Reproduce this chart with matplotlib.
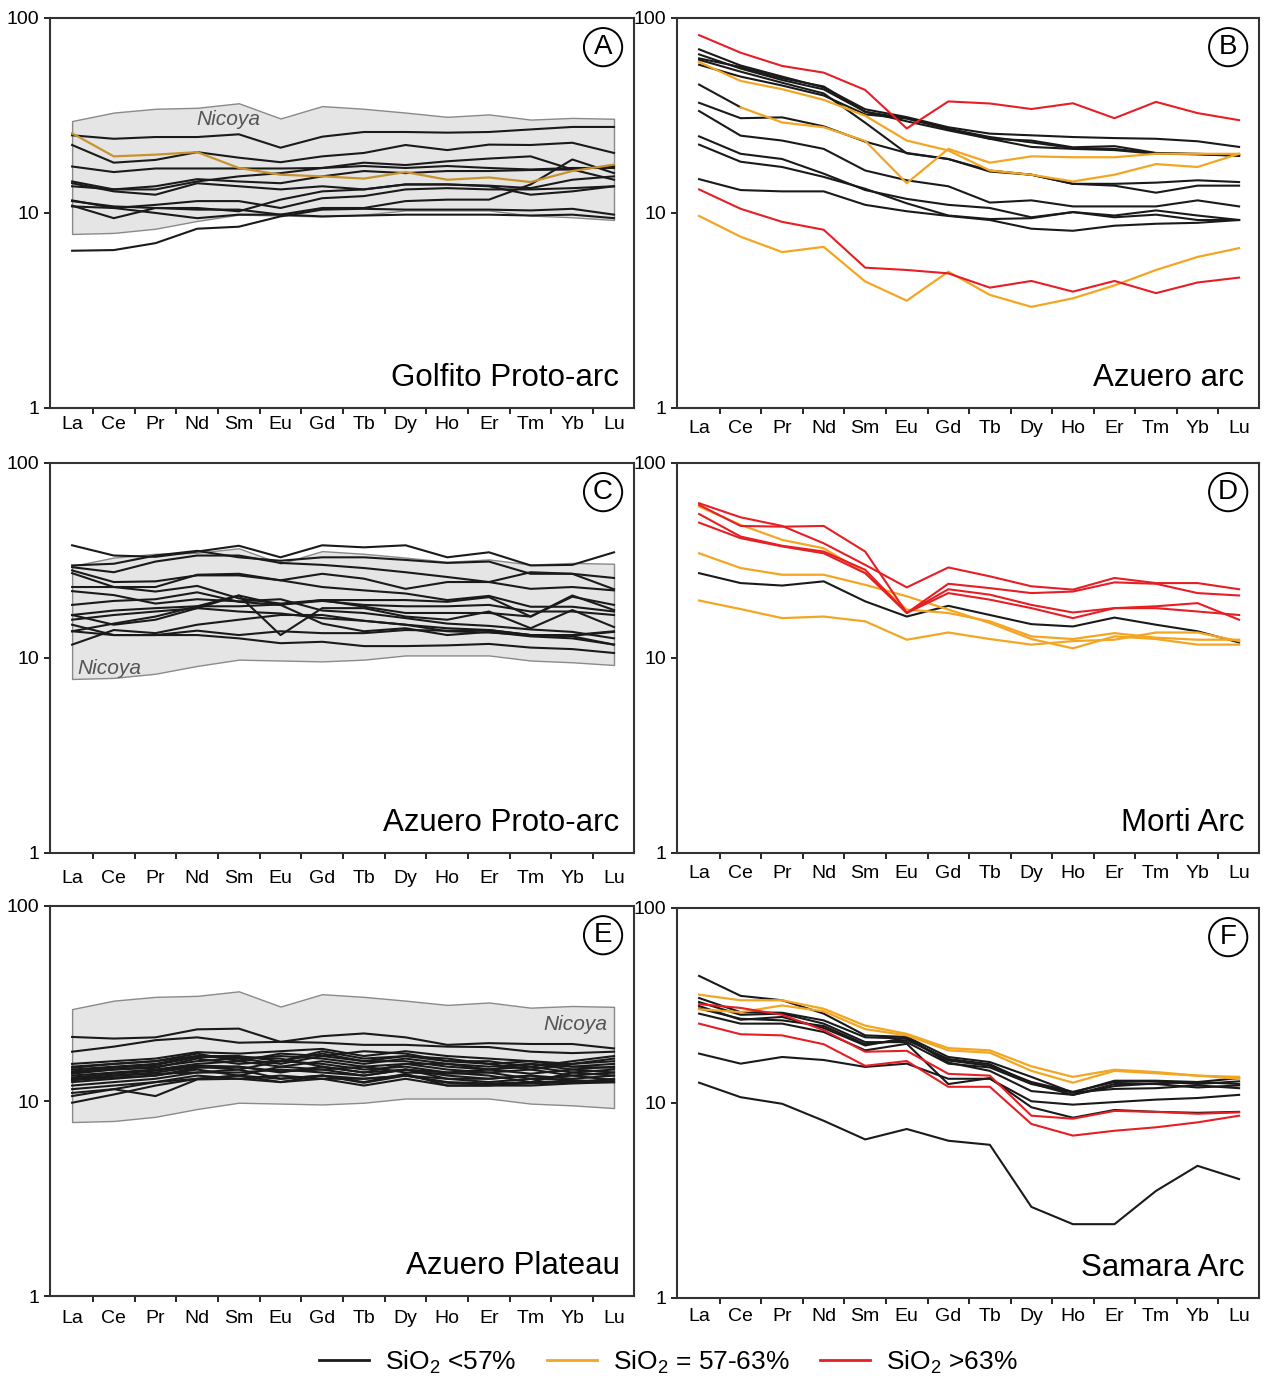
import numpy as np
import matplotlib.pyplot as plt
from matplotlib.lines import Line2D
from matplotlib.ticker import FixedLocator, NullLocator, FixedFormatter

plt.rcParams['font.family'] = ['Liberation Sans', 'DejaVu Sans']
plt.rcParams['mathtext.fontset'] = 'custom'
plt.rcParams['mathtext.rm'] = 'Liberation Sans'

nan = np.nan
ree = ['La', 'Ce', 'Pr', 'Nd', 'Sm', 'Eu', 'Gd', 'Tb', 'Dy', 'Ho', 'Er', 'Tm', 'Yb', 'Lu']

# Nicoya field (same envelope in A, C, E)
nicoya_hi = [29.6, 32.7, 34.2, 34.6, 36.5, 30.5, 35.3, 34.2, 32.7, 31.1, 32.0, 30.1, 30.7, 30.4]
nicoya_lo = [7.8, 7.9, 8.3, 9.1, 9.8, 9.7, 9.6, 9.8, 10.3, 10.3, 10.3, 9.7, 9.5, 9.2]

# A - Golfito Proto-arc
a_black = [
    [25.0, 24.0, 24.5, 24.5, 25.3, 21.6, 24.6, 26.0, 26.0, 25.8, 26.0, 26.8, 27.6, 27.6],
    [22.3, 18.1, 18.7, 20.5, 19.2, 18.2, 19.5, 20.3, 22.3, 21.0, 22.4, 22.3, 22.9, 20.3],
    [17.3, 16.2, 16.9, 16.9, 16.9, 16.9, 17.0, 18.1, 17.6, 18.4, 19.0, 19.5, 16.7, 14.8],
    [14.5, 13.2, 13.7, 14.9, 14.5, 14.2, 15.4, 16.4, 16.0, 16.4, 16.4, 16.6, 16.7, 17.4],
    [14.2, 12.9, 12.4, 14.2, 13.7, 13.2, 13.7, 13.2, 14.0, 14.0, 13.7, 12.4, 12.9, 13.7],
    [13.7, 13.2, 13.2, 14.5, 15.4, 16.0, 17.0, 17.4, 17.0, 17.4, 17.0, 16.7, 17.0, 17.0],
    [11.6, 10.6, 11.0, 11.5, 11.5, 10.6, 11.9, 12.2, 13.2, 13.4, 13.2, 13.2, 13.4, 13.7],
    [10.9, 9.4, 10.6, 10.6, 10.2, 11.7, 12.9, 13.2, 14.0, 14.0, 13.8, 13.4, 14.8, 15.4],
    [10.8, 10.6, 10.0, 9.4, 9.8, 9.8, 10.6, 10.6, 11.5, 11.7, 11.7, 14.0, 18.8, 16.0],
    [11.5, 10.8, 10.6, 10.4, 10.4, 9.8, 9.6, 9.7, 9.8, 9.8, 9.8, 9.7, 9.8, 9.4],
    [6.4, 6.45, 7.0, 8.3, 8.5, 9.6, 10.4, 10.5, 10.4, 10.4, 10.4, 10.3, 10.5, 9.8],
]
a_orange = [
    [25.6, 19.5, 19.9, 20.5, 17.0, 15.7, 15.4, 15.0, 16.2, 14.8, 15.2, 14.4, 16.4, 17.7],
]
a_red = []

# B - Azuero arc
b_black = [
    [69.0, 57.0, 50.0, 44.0, 34.0, 31.0, 27.5, 25.5, 25.0, 24.5, 24.2, 24.0, 23.3, 21.8],
    [65.0, 55.0, 48.0, 43.0, 33.0, 30.5, 27.0, 24.0, 23.5, 21.7, 22.0, 20.3, 20.1, 19.8],
    [62.0, 56.0, 49.0, 44.5, 33.0, 29.5, 26.5, 24.0, 21.8, 21.3, 21.0, 20.1, 20.0, 19.6],
    [61.0, 53.0, 46.5, 41.0, 29.0, 20.2, 18.9, 16.3, 15.7, 14.1, 13.8, 12.7, 13.8, 13.8],
    [57.5, 50.0, 45.0, 40.0, 32.0, 30.5, 27.0, 24.5, 23.0, 21.5, 21.3, 20.2, 20.0, 19.7],
    [45.5, 34.8, nan, nan, nan, nan, nan, nan, nan, nan, nan, nan, nan, nan],
    [36.7, 30.6, 30.9, 27.8, 23.2, 20.3, 18.9, 16.5, 15.7, 14.1, 14.1, 14.3, 14.7, 14.4],
    [33.3, 24.9, 23.5, 21.3, 16.5, 14.7, 13.7, 11.3, 11.6, 10.8, 10.8, 10.8, 11.6, 10.8],
    [24.7, 20.1, 18.9, 15.9, 13.1, 11.8, 11.0, 10.6, 9.5, 10.1, 9.7, 10.3, 9.7, 9.2],
    [22.4, 18.3, 17.2, 15.3, 13.3, 11.2, 9.7, 9.3, 9.4, 10.1, 9.5, 9.8, 9.2, 9.2],
    [14.9, 13.1, 12.9, 12.9, 11.0, 10.2, 9.65, 9.2, 8.3, 8.1, 8.6, 8.8, 8.9, 9.2],
]
b_orange = [
    [59.4, 47.5, 43.1, 38.0, 31.5, 23.5, 20.9, 16.5, 15.7, 14.5, 15.7, 17.8, 17.2, 20.1],
    [nan, 34.8, 29.1, 27.5, 23.4, 14.2, 21.3, 18.1, 19.5, 19.3, 19.3, 20.1, 20.1, 20.1],
    [9.65, 7.55, 6.3, 6.7, 4.45, 3.55, 5.0, 3.8, 3.3, 3.65, 4.25, 5.1, 5.95, 6.6],
]
b_red = [
    [81.6, 66.3, 56.7, 52.4, 42.7, 27.1, 37.3, 36.4, 34.1, 36.5, 30.6, 37.1, 32.5, 29.9],
    [13.2, 10.5, 9.0, 8.2, 5.24, 5.1, 4.9, 4.14, 4.48, 3.95, 4.48, 3.88, 4.4, 4.66],
]

# C - Azuero Proto-arc
c_black = [
    [37.8, 33.5, 33.0, 35.1, 37.6, 32.8, 37.8, 36.9, 37.8, 32.8, 34.8, 29.8, 30.0, 34.8],
    [29.8, 30.4, 33.5, 35.4, 32.8, 31.5, 32.8, 32.8, 31.8, 30.7, 31.2, 27.0, 27.0, 25.7],
    [29.2, 27.5, 31.2, 33.5, 33.5, 30.7, 30.0, 28.9, 27.5, 26.0, 24.5, 22.6, 23.1, 22.2],
    [28.1, 24.5, 24.7, 26.5, 26.5, 25.0, 27.0, 25.5, 22.6, 24.5, 24.5, 27.5, 27.0, 22.5],
    [27.2, 23.1, 21.9, 23.4, 20.2, 19.0, 19.8, 18.3, 17.0, 17.0, 17.0, 16.3, 20.6, 18.7],
    [23.1, 23.1, 23.1, 26.7, 27.0, 25.0, 23.1, 22.2, 21.4, 19.8, 20.8, 18.3, 18.3, 17.3],
    [18.7, 19.6, 20.0, 21.7, 19.4, 18.7, 19.8, 19.8, 19.8, 19.4, 20.5, 16.3, 20.9, 17.6],
    [16.6, 17.5, 18.0, 18.4, 18.4, 18.8, 19.6, 18.7, 18.4, 18.4, 18.7, 17.3, 17.3, 16.6],
    [16.6, 14.8, 15.7, 18.0, 20.9, 13.1, 18.0, 18.0, 16.3, 15.7, 17.3, 14.2, 17.6, 14.4],
    [15.7, 16.6, 17.3, 18.0, 17.3, 16.9, 16.0, 15.5, 14.8, 14.2, 13.9, 13.1, 12.9, 11.7],
    [13.7, 15.0, 16.3, 18.4, 20.9, 18.7, 15.0, 13.7, 14.2, 13.1, 13.6, 12.9, 12.6, 11.7],
    [13.7, 13.1, 13.1, 13.8, 13.1, 13.7, 13.4, 13.4, 13.9, 13.8, 13.9, 13.1, 13.1, 13.7],
    [11.7, 13.9, 13.4, 14.8, 15.7, 16.6, 16.6, 15.5, 14.8, 13.7, 13.5, 13.1, 13.0, 13.6],
    [14.8, 13.1, 13.1, 13.1, 12.6, 11.9, 12.1, 11.5, 11.5, 11.6, 11.8, 11.3, 11.1, 10.6],
    [22.0, 21.0, 19.0, 20.0, 19.5, 20.0, 17.5, 17.0, 16.0, 15.0, 14.6, 14.0, 13.6, 12.6],
]
c_orange = []
c_red = []

# D - Morti Arc
d_black = [
    [27.2, 24.2, 23.5, 24.7, 19.5, 16.3, 18.5, 16.6, 14.9, 14.5, 16.1, 14.8, 13.7, 12.0],
]
d_orange = [
    [59.7, 48.1, 40.3, 36.5, 27.2, 17.7, 17.0, 15.4, 12.9, 12.5, 13.4, 12.7, 12.4, 12.4],
    [34.4, 28.9, 26.7, 26.7, 23.7, 20.7, 17.7, 15.1, 12.5, 11.2, 12.9, 12.5, 11.7, 11.7],
    [19.7, 17.8, 16.0, 16.3, 15.4, 12.4, 13.5, 12.5, 11.7, 12.2, 12.4, 13.5, 13.5, 12.2],
]
d_red = [
    [62.1, 52.6, 47.5, 38.7, 30.0, 23.0, 29.1, 26.2, 23.3, 22.4, 25.7, 24.2, 24.2, 22.5],
    [60.9, 47.5, 47.1, 47.5, 35.1, 17.0, 24.0, 22.8, 21.5, 21.9, 24.4, 24.0, 21.5, 20.9],
    [54.7, 41.9, 37.6, 35.1, 28.3, 17.0, 22.5, 21.1, 18.7, 17.1, 18.0, 18.0, 17.3, 16.6],
    [49.4, 41.1, 37.3, 34.4, 27.2, 17.0, 21.5, 19.9, 18.0, 16.0, 18.0, 18.4, 19.1, 15.7],
]

# E - Azuero Plateau
e_black = [
    [21.3, 20.9, 21.2, 23.3, 23.5, 20.1, 21.5, 22.2, 21.2, 19.4, 19.8, 19.6, 19.6, 18.6],
    [17.9, 19.0, 20.5, 21.2, 19.9, 20.1, 19.9, 19.4, 19.4, 19.0, 18.9, 17.9, 17.6, 17.9],
    [15.5, 16.0, 16.5, 17.8, 17.5, 18.0, 18.5, 17.0, 18.0, 17.0, 16.5, 16.0, 15.5, 16.5],
    [15.0, 15.5, 16.0, 17.5, 16.0, 17.5, 17.0, 18.0, 17.5, 16.0, 16.0, 15.0, 16.0, 17.0],
    [14.5, 15.0, 15.5, 17.0, 17.0, 16.0, 18.0, 16.5, 17.0, 16.5, 15.5, 16.0, 15.0, 15.5],
    [14.0, 14.5, 15.0, 16.0, 16.5, 17.0, 16.5, 15.5, 16.5, 15.5, 15.0, 15.5, 14.5, 15.0],
    [13.8, 14.5, 14.8, 16.5, 15.5, 16.0, 17.5, 16.0, 16.0, 15.0, 14.5, 15.0, 14.0, 14.5],
    [13.5, 14.0, 14.5, 15.5, 16.0, 15.0, 16.0, 15.0, 15.5, 14.5, 14.0, 14.5, 13.5, 14.0],
    [13.0, 13.5, 14.0, 15.0, 14.5, 16.0, 15.5, 14.5, 15.0, 14.0, 13.5, 12.5, 14.0, 13.5],
    [12.8, 13.2, 13.5, 14.8, 15.0, 14.0, 15.0, 14.0, 14.5, 13.5, 13.0, 13.5, 12.5, 13.0],
    [12.5, 13.0, 13.5, 14.5, 13.5, 15.0, 14.5, 15.0, 14.0, 13.8, 14.0, 13.0, 13.5, 12.8],
    [12.0, 12.5, 13.0, 14.0, 14.0, 14.5, 14.0, 13.5, 14.5, 13.0, 12.5, 13.0, 12.8, 12.5],
    [11.5, 12.0, 12.5, 13.5, 13.0, 13.5, 13.0, 13.0, 13.5, 12.5, 12.3, 12.5, 12.5, 12.8],
    [11.0, 11.5, 12.5, 13.0, 13.5, 12.5, 13.5, 12.5, 13.8, 12.0, 12.0, 12.0, 12.3, 12.5],
    [10.6, 11.5, 10.6, 12.9, 13.0, 12.5, 13.0, 12.0, 13.0, 12.0, 12.0, 12.5, 12.5, 12.5],
    [9.8, 10.8, 12.0, 13.0, 13.5, 13.0, 13.5, 13.0, 13.5, 13.0, 13.0, 13.5, 13.0, 13.5],
    [14.8, 15.5, 16.0, 17.0, 16.5, 15.5, 17.0, 16.0, 17.0, 16.0, 15.5, 14.5, 15.5, 16.0],
    [14.2, 14.8, 15.3, 16.8, 16.8, 16.5, 15.0, 14.0, 15.5, 15.5, 14.5, 15.5, 15.0, 14.8],
    [13.2, 13.8, 14.3, 15.2, 15.0, 14.2, 14.5, 13.5, 14.5, 14.0, 14.5, 13.8, 14.5, 14.0],
    [12.8, 13.5, 13.8, 14.0, 14.5, 13.0, 13.5, 12.4, 13.5, 12.4, 12.1, 12.3, 12.5, 12.5],
]
e_orange = []
e_red = []

# F - Samara Arc
f_black = [
    [44.8, 35.4, 33.6, 28.7, 22.2, 21.8, 17.2, 16.2, 13.6, 11.3, 13.0, 13.0, 12.8, 13.4],
    [34.5, 29.2, 29.0, 26.5, 21.7, 21.4, 16.5, 15.5, 12.8, 11.4, 12.8, 12.9, 12.5, 12.9],
    [32.9, 28.3, 28.7, 25.5, 20.5, 20.5, 15.9, 15.2, 12.5, 11.3, 11.8, 11.9, 12.3, 11.9],
    [31.4, 26.7, 27.6, 24.2, 19.7, 21.6, 16.1, 14.6, 11.5, 11.0, 12.5, 12.5, 12.0, 12.3],
    [30.5, 27.0, 26.5, 24.8, 20.0, 21.0, 16.8, 15.8, 12.6, 11.0, 12.2, 12.6, 12.8, 12.5],
    [28.7, 25.5, 25.5, 23.1, 18.6, 20.1, 12.5, 13.4, 9.5, 8.4, 9.2, 9.0, 8.9, 9.0],
    [17.9, 15.9, 17.2, 16.6, 15.3, 15.9, 13.3, 13.3, 10.2, 9.8, 10.1, 10.4, 10.6, 11.0],
    [12.7, 10.7, 9.9, 8.1, 6.5, 7.35, 6.4, 6.1, 2.93, 2.39, 2.39, 3.54, 4.76, 4.07],
]
f_orange = [
    [35.9, 33.6, 33.6, 30.4, 24.9, 22.6, 19.1, 18.6, 15.4, 13.6, 14.8, 14.4, 13.8, 13.6],
    [30.2, 29.2, 31.6, 29.5, 23.9, 22.2, 18.6, 18.1, 14.6, 12.7, 14.6, 14.2, 13.8, 13.3],
]
f_red = [
    [32.1, 30.7, 28.3, 23.6, 18.3, 18.5, 14.1, 13.8, 8.6, 8.3, 9.1, 9.0, 8.8, 8.95],
    [25.5, 22.5, 22.2, 20.0, 15.5, 16.4, 12.1, 12.1, 7.8, 6.8, 7.2, 7.5, 7.95, 8.6],
]

letters = ['A', 'B', 'C', 'D', 'E', 'F']
names = ['Golfito Proto-arc', 'Azuero arc', 'Azuero Proto-arc', 'Morti Arc', 'Azuero Plateau', 'Samara Arc']
blacks = [a_black, b_black, c_black, d_black, e_black, f_black]
oranges = [a_orange, b_orange, c_orange, d_orange, e_orange, f_orange]
reds = [a_red, b_red, c_red, d_red, e_red, f_red]
# position of the "Nicoya" label (x index, value, alignment); None = no field
nicoya_lab = [(3.75, 30.0, 'center'), None, (0.9, 8.8, 'center'), None, (12.85, 24.6, 'right'), None]

col_black = '#1a1a1a'
col_orange = '#f3a623'
col_red = '#e61e25'

fig = plt.figure(figsize=(12.66, 13.76), dpi=100)

lefts = [0.0395, 0.5348]
bottoms = [0.7035, 0.3801, 0.0581]
w = [0.4613, 0.4597]
h = 0.2835
label_pad = [6, 9, 12, 9, 10, 7]

x = np.arange(len(ree))

for k in range(6):
    r = k // 2
    c = k % 2
    bot = bottoms[r]
    if k == 5:
        bot = 0.0567
    ax = fig.add_axes([lefts[c], bot, w[c], h])
    ax.set_yscale('log')
    ax.set_ylim(1, 100)
    ax.set_xlim(-0.53, 13.48)

    if nicoya_lab[k] is not None:
        ax.fill_between(x, nicoya_lo, nicoya_hi, facecolor='#e5e5e5', edgecolor='#8a8a8a', lw=1.0, zorder=1)
        nx, ny, nha = nicoya_lab[k]
        ax.text(nx, ny, 'Nicoya', style='italic', fontsize=15, color='#555555', ha=nha, va='center', zorder=2)

    for vals in blacks[k]:
        ax.plot(x, vals, color=col_black, lw=1.5, zorder=3)
    for vals in oranges[k]:
        oc = '#c8932f' if k == 0 else col_orange
        ax.plot(x, vals, color=oc, lw=1.6, zorder=4)
    for vals in reds[k]:
        ax.plot(x, vals, color=col_red, lw=1.5, zorder=5)

    # ticks
    ax.yaxis.set_major_locator(FixedLocator([1, 10, 100]))
    ax.yaxis.set_major_formatter(FixedFormatter(['1', '10', '100']))
    ax.yaxis.set_minor_locator(NullLocator())
    ax.set_xticks(x)
    ax.set_xticklabels(ree)
    ax.set_xticks(x[:-1] + 0.5, minor=True)
    ax.tick_params(axis='x', which='major', length=0, pad=label_pad[k], labelsize=14)
    ax.tick_params(axis='x', which='minor', length=4, width=1.2, direction='out')
    ax.tick_params(axis='y', which='major', length=4, width=1.2, direction='out', pad=4, labelsize=14)
    for s in ax.spines.values():
        s.set_linewidth(1.5)
        s.set_color('#333333')

    ax.text(0.975, 0.078, names[k], transform=ax.transAxes, ha='right', va='center', fontsize=22.5)
    ax.text(0.947, 0.925, letters[k], transform=ax.transAxes, ha='center', va='center', fontsize=20,
            bbox=dict(boxstyle='circle,pad=0.22', fc='white', ec='black', lw=1.4))

handles = [Line2D([], [], color=col_black, lw=2),
           Line2D([], [], color=col_orange, lw=2),
           Line2D([], [], color=col_red, lw=2)]
labels = ['SiO$_2$ <57%', 'SiO$_2$ = 57-63%', 'SiO$_2$ >63%']
fig.legend(handles, labels, loc='lower center', bbox_to_anchor=(0.528, -0.017), ncol=3, frameon=False,
           fontsize=19, handlelength=1.9, handletextpad=0.6, columnspacing=1.15)

fig.savefig('out.png', dpi=100)
